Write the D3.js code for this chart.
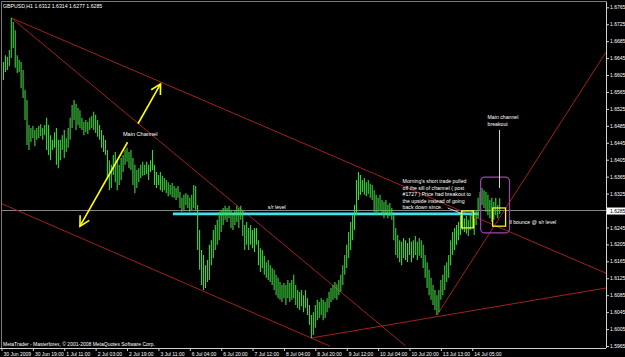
<!DOCTYPE html>
<html>
<head>
<meta charset="utf-8">
<script src="https://cdnjs.cloudflare.com/ajax/libs/d3/7.8.5/d3.min.js"></script>
<style>
  body { margin: 0; background: #000; }
  svg { display: block; }
  text { font-family: "Liberation Sans", Arial, sans-serif; }
</style>
</head>
<body>
<div id="chart"></div>
<script>
// ---- data (GBPUSD H1) ----
const symbolTitle = "GBPUSD,H1  1.6312 1.6314 1.6277 1.6285";
const lastClose = 1.6285;

const highs = [
  1.6612,1.6636,1.6652,1.6648,1.6664,1.6740,1.6730,1.6711,1.6652,1.6641,
  1.6636,1.6617,1.6570,1.6546,1.6487,1.6480,1.6485,1.6475,1.6480,1.6485,
  1.6489,1.6480,1.6487,1.6504,1.6487,1.6463,1.6452,1.6470,1.6480,1.6452,
  1.6452,1.6463,1.6475,1.6456,1.6480,1.6504,1.6534,1.6546,1.6537,1.6527,
  1.6522,1.6504,1.6494,1.6499,1.6494,1.6504,1.6508,1.6518,1.6511,1.6499,
  1.6487,1.6475,1.6463,1.6452,1.6428,1.6404,1.6393,1.6416,1.6423,1.6404,
  1.6393,1.6409,1.6416,1.6428,1.6433,1.6423,1.6428,1.6409,1.6393,1.6381,
  1.6385,1.6393,1.6400,1.6393,1.6400,1.6393,1.6404,1.6428,1.6393,1.6376,
  1.6369,1.6376,1.6367,1.6362,1.6357,1.6352,1.6345,1.6350,1.6343,1.6338,
  1.6343,1.6329,1.6315,1.6322,1.6326,1.6322,1.6315,1.6322,1.6345,1.6343,
  1.6298,1.6239,1.6192,1.6180,1.6156,1.6168,1.6204,1.6215,1.6239,1.6251,
  1.6263,1.6282,1.6286,1.6291,1.6296,1.6291,1.6296,1.6286,1.6277,1.6286,
  1.6296,1.6291,1.6296,1.6286,1.6251,1.6258,1.6244,1.6251,1.6239,1.6244,
  1.6244,1.6215,1.6196,1.6192,1.6178,1.6163,1.6168,1.6156,1.6149,1.6145,
  1.6133,1.6126,1.6116,1.6109,1.6114,1.6109,1.6121,1.6114,1.6121,1.6133,
  1.6109,1.6097,1.6093,1.6097,1.6085,1.6097,1.6078,1.6062,1.6038,1.6045,
  1.6062,1.6074,1.6069,1.6078,1.6074,1.6069,1.6078,1.6093,1.6102,1.6109,
  1.6116,1.6111,1.6121,1.6133,1.6156,1.6180,1.6204,1.6234,1.6258,1.6274,
  1.6298,1.6357,1.6376,1.6369,1.6357,1.6362,1.6352,1.6357,1.6348,1.6345,
  1.6333,1.6322,1.6315,1.6322,1.6310,1.6305,1.6310,1.6298,1.6303,1.6291,
  1.6274,1.6244,1.6227,1.6215,1.6211,1.6220,1.6215,1.6208,1.6220,1.6211,
  1.6215,1.6225,1.6211,1.6220,1.6215,1.6204,1.6180,1.6163,1.6145,1.6126,
  1.6109,1.6097,1.6085,1.6097,1.6121,1.6133,1.6156,1.6163,1.6180,1.6215,
  1.6234,1.6244,1.6251,1.6258,1.6274,1.6282,1.6267,1.6272,1.6263,1.6274,
  1.6286,1.6267,1.6286,1.6315,1.6329,1.6338,1.6333,1.6329,1.6322,1.6310,
  1.6315,1.6305,1.6315,1.6298,1.6314
];

const lows = [
  1.6570,1.6593,1.6612,1.6617,1.6626,1.6645,1.6669,1.6622,1.6610,1.6612,
  1.6574,1.6551,1.6499,1.6440,1.6428,1.6447,1.6456,1.6437,1.6452,1.6456,
  1.6461,1.6452,1.6463,1.6428,1.6416,1.6404,1.6428,1.6433,1.6393,1.6385,
  1.6404,1.6428,1.6409,1.6423,1.6433,1.6452,1.6480,1.6499,1.6475,1.6487,
  1.6480,1.6475,1.6463,1.6470,1.6466,1.6475,1.6480,1.6475,1.6468,1.6459,
  1.6452,1.6433,1.6423,1.6416,1.6362,1.6333,1.6338,1.6369,1.6352,1.6333,
  1.6345,1.6357,1.6376,1.6393,1.6400,1.6385,1.6381,1.6345,1.6326,1.6338,
  1.6352,1.6362,1.6367,1.6369,1.6371,1.6357,1.6376,1.6381,1.6345,1.6338,
  1.6345,1.6333,1.6329,1.6333,1.6326,1.6319,1.6322,1.6317,1.6315,1.6310,
  1.6315,1.6291,1.6282,1.6286,1.6298,1.6291,1.6282,1.6286,1.6291,1.6286,
  1.6192,1.6145,1.6109,1.6097,1.6102,1.6116,1.6121,1.6156,1.6173,1.6192,
  1.6204,1.6215,1.6234,1.6251,1.6263,1.6258,1.6267,1.6244,1.6239,1.6251,
  1.6258,1.6244,1.6263,1.6225,1.6192,1.6204,1.6192,1.6204,1.6196,1.6187,
  1.6204,1.6156,1.6140,1.6149,1.6133,1.6126,1.6121,1.6116,1.6109,1.6097,
  1.6085,1.6078,1.6074,1.6069,1.6078,1.6062,1.6078,1.6069,1.6074,1.6078,
  1.6062,1.6055,1.6050,1.6059,1.6045,1.6055,1.6038,1.6015,1.5984,1.5991,
  1.6008,1.6026,1.6031,1.6038,1.6026,1.6031,1.6045,1.6055,1.6069,1.6074,
  1.6078,1.6074,1.6085,1.6093,1.6109,1.6133,1.6149,1.6173,1.6192,1.6215,
  1.6239,1.6274,1.6310,1.6322,1.6329,1.6322,1.6319,1.6324,1.6315,1.6310,
  1.6282,1.6274,1.6282,1.6286,1.6274,1.6267,1.6277,1.6267,1.6272,1.6263,
  1.6215,1.6180,1.6173,1.6163,1.6156,1.6173,1.6168,1.6163,1.6180,1.6163,
  1.6173,1.6180,1.6168,1.6178,1.6173,1.6149,1.6126,1.6102,1.6085,1.6074,
  1.6062,1.6050,1.6038,1.6045,1.6074,1.6085,1.6097,1.6116,1.6126,1.6156,
  1.6180,1.6192,1.6204,1.6215,1.6227,1.6239,1.6234,1.6230,1.6225,1.6239,
  1.6244,1.6227,1.6251,1.6267,1.6286,1.6298,1.6291,1.6282,1.6274,1.6267,
  1.6258,1.6263,1.6274,1.6267,1.6277
];

const timeLabels = ["30 Jun 2009", "30 Jun 19:00", "1 Jul 11:00", "2 Jul 03:00", "2 Jul 19:00",
  "3 Jul 11:00", "6 Jul 04:00", "6 Jul 20:00", "7 Jul 12:00", "8 Jul 04:00", "8 Jul 20:00",
  "9 Jul 12:00", "10 Jul 04:00", "10 Jul 20:00", "13 Jul 13:00", "14 Jul 05:00"];
const timeLabelBars = [0, 16, 32, 48, 64, 80, 96, 112, 128, 144, 160, 176, 192, 208, 224, 240];

const priceTicks = [1.5965, 1.6005, 1.6045, 1.6085, 1.6125, 1.6165, 1.6205, 1.6245, 1.6285,
  1.6325, 1.6365, 1.6405, 1.6445, 1.6485, 1.6525, 1.6565, 1.6605, 1.6645, 1.6685, 1.6725, 1.6765];

// trend lines: [bar, price] pairs
const trendLines = [
  [[5, 1.6740], [308.2, 1.6137]],
  [[5, 1.6740], [206.1, 1.5965]],
  [[-0.8, 1.6303], [167.3, 1.5965]],
  [[158, 1.5984], [308.2, 1.6102]],
  [[222, 1.6038], [308.2, 1.6659]]
];

const srLevel = [87.4, 243.3, 1.6277];            // start bar, end bar, price
const channelArrow = [[40, 1.6248], [81.1, 1.6584]];
const yellowBoxes = [[234.6, 240.7, 1.6284, 1.6244], [250.4, 257.0, 1.6291, 1.6248]];
const purpleBox = [244.3, 259.0, 1.6364, 1.6232];
const noteLines = ["Morning's short trade pulled", "off the sill of channel ( post",
  "#1727 ) Price had breakout to", "the upside instead of going", "back down since."];
const noteAnchor = [204.5, 1.6350];
const notePointer = [[227.5, 1.6291], [235.1, 1.6277]];
const breakoutLines = ["Main channel", "breakout"];
const breakoutAnchor = [247.8, 1.6501];
const breakoutPointer = [[253.9, 1.6475], [253.9, 1.6338]];
const bounceText = "ll bounce @ s/r level";
const bounceAnchor = [259.0, 1.6253];

// ---- drawing ----
const width = 625, height = 357;
const plotRight = 606, plotBottom = 348;

const svg = d3.select("#chart").append("svg")
  .attr("width", width).attr("height", height)
  .style("background", "#000");

const x = d3.scaleLinear().domain([0, 308.2]).range([1.5, plotRight]);
const y = d3.scaleLinear().domain([1.5965, 1.6765]).range([346, 7.3]);

svg.append("clipPath").attr("id", "plot")
  .append("rect").attr("x", 1.5).attr("y", 1.5)
  .attr("width", plotRight - 1.5).attr("height", plotBottom - 1.5);

const plot = svg.append("g").attr("clip-path", "url(#plot)");

// bid line
plot.append("line")
  .attr("x1", 0).attr("x2", plotRight)
  .attr("y1", y(lastClose)).attr("y2", y(lastClose))
  .attr("stroke", "#8a8a8a").attr("stroke-width", 1);

// trend lines
plot.selectAll("line.trend")
  .data(trendLines)
  .join("line")
  .attr("class", "trend")
  .attr("x1", d => x(d[0][0])).attr("y1", d => y(d[0][1]))
  .attr("x2", d => x(d[1][0])).attr("y2", d => y(d[1][1]))
  .attr("stroke", "#a3201f").attr("stroke-width", 1);

// s/r level
plot.append("line")
  .attr("x1", x(srLevel[0])).attr("x2", x(srLevel[1]))
  .attr("y1", y(srLevel[2])).attr("y2", y(srLevel[2]))
  .attr("stroke", "#3ee4ea").attr("stroke-width", 2.6);

// price bars
plot.selectAll("line.bar")
  .data(d3.range(highs.length))
  .join("line")
  .attr("class", "bar")
  .attr("x1", i => x(i)).attr("x2", i => x(i))
  .attr("y1", i => y(highs[i])).attr("y2", i => y(lows[i]))
  .attr("stroke", "#3fd23f").attr("stroke-width", 1.1);

// channel double arrow (broken around the label)
const a0 = [x(channelArrow[0][0]), y(channelArrow[0][1])];
const a1 = [x(channelArrow[1][0]), y(channelArrow[1][1])];
const lerp = t => [a0[0] + (a1[0] - a0[0]) * t, a0[1] + (a1[1] - a0[1]) * t];
[[0, 0.59], [0.72, 1]].forEach(([t0, t1]) => {
  const p = lerp(t0), q = lerp(t1);
  plot.append("line")
    .attr("x1", p[0]).attr("y1", p[1]).attr("x2", q[0]).attr("y2", q[1])
    .attr("stroke", "#ffff00").attr("stroke-width", 1.6);
});
function arrowHead(tip, from) {
  const ang = Math.atan2(from[1] - tip[1], from[0] - tip[0]);
  const len = 11, spread = 0.5;
  const l = [tip[0] + len * Math.cos(ang - spread), tip[1] + len * Math.sin(ang - spread)];
  const r = [tip[0] + len * Math.cos(ang + spread), tip[1] + len * Math.sin(ang + spread)];
  plot.append("path")
    .attr("d", d3.line()([l, tip, r]))
    .attr("fill", "none").attr("stroke", "#ffff00").attr("stroke-width", 1.6);
}
arrowHead(a1, a0);
arrowHead(a0, a1);

plot.append("text")
  .attr("x", x(61.9)).attr("y", y(1.6461))
  .attr("fill", "#fff").attr("font-size", 5.6)
  .text("Main Channel");

plot.append("text")
  .attr("x", x(135.8)).attr("y", y(1.6288))
  .attr("fill", "#fff").attr("font-size", 5.2)
  .text("s/r level");

// boxes
plot.selectAll("rect.ybox")
  .data(yellowBoxes)
  .join("rect")
  .attr("class", "ybox")
  .attr("x", d => x(d[0])).attr("y", d => y(d[2]))
  .attr("width", d => x(d[1]) - x(d[0])).attr("height", d => y(d[3]) - y(d[2]))
  .attr("fill", "none").attr("stroke", "#f2f22a").attr("stroke-width", 1.3);

plot.append("rect")
  .attr("x", x(purpleBox[0])).attr("y", y(purpleBox[2]))
  .attr("width", x(purpleBox[1]) - x(purpleBox[0]))
  .attr("height", y(purpleBox[3]) - y(purpleBox[2]))
  .attr("rx", 4)
  .attr("fill", "none").attr("stroke", "#a045b0").attr("stroke-width", 1.2);

// notes
plot.append("text")
  .attr("x", x(noteAnchor[0])).attr("y", y(noteAnchor[1]))
  .attr("fill", "#fff").attr("font-size", 5.2)
  .selectAll("tspan").data(noteLines).join("tspan")
  .attr("x", x(noteAnchor[0])).attr("dy", (d, i) => i ? 6.6 : 0)
  .text(d => d);

plot.append("line")
  .attr("x1", x(notePointer[0][0])).attr("y1", y(notePointer[0][1]))
  .attr("x2", x(notePointer[1][0])).attr("y2", y(notePointer[1][1]))
  .attr("stroke", "#e8e8e8").attr("stroke-width", 0.8);

plot.append("text")
  .attr("x", x(breakoutAnchor[0])).attr("y", y(breakoutAnchor[1]))
  .attr("fill", "#fff").attr("font-size", 5.2)
  .selectAll("tspan").data(breakoutLines).join("tspan")
  .attr("x", x(breakoutAnchor[0])).attr("dy", (d, i) => i ? 7 : 0)
  .text(d => d);

plot.append("line")
  .attr("x1", x(breakoutPointer[0][0])).attr("y1", y(breakoutPointer[0][1]))
  .attr("x2", x(breakoutPointer[1][0])).attr("y2", y(breakoutPointer[1][1]))
  .attr("stroke", "#f0f0f0").attr("stroke-width", 0.9);

plot.append("text")
  .attr("x", x(bounceAnchor[0])).attr("y", y(bounceAnchor[1]))
  .attr("fill", "#fff").attr("font-size", 5.2)
  .text(bounceText);

// title & copyright
svg.append("text")
  .attr("x", 3).attr("y", 7.5)
  .attr("fill", "#fff").attr("font-size", 5.2)
  .text(symbolTitle);

svg.append("text")
  .attr("x", 3).attr("y", 345.5)
  .attr("fill", "#fff").attr("font-size", 5)
  .text("MetaTrader - Masterforex, \u00a9 2001-2008 MetaQuotes Software Corp.");

// frame
svg.append("path")
  .attr("d", `M1.5,${plotBottom}V1.5H${plotRight}`)
  .attr("fill", "none").attr("stroke", "#7a7a7a").attr("stroke-width", 1);

// price axis
const yAxis = svg.append("g")
  .attr("transform", `translate(${plotRight},0)`)
  .call(d3.axisRight(y).tickValues(priceTicks).tickFormat(d3.format(".4f")).tickSize(3).tickPadding(1));
yAxis.select(".domain").attr("stroke", "#d0d0d0").attr("d", `M0.5,1.5V${plotBottom}`);
yAxis.selectAll(".tick line").attr("stroke", "#d0d0d0");
yAxis.selectAll(".tick text")
  .attr("fill", "#fff").attr("font-size", 5).attr("font-family", "Liberation Sans, Arial, sans-serif");
yAxis.selectAll(".tick").filter(d => Math.abs(d - lastClose) < 1e-6)
  .each(function () {
    const t = d3.select(this);
    t.insert("rect", "text")
      .attr("x", 1).attr("y", -3.5).attr("width", 18).attr("height", 7)
      .attr("fill", "#fff");
    t.select("text").attr("fill", "#000");
  });

// time axis
const xAxis = svg.append("g")
  .attr("transform", `translate(0,${plotBottom})`)
  .call(d3.axisBottom(x).tickValues(timeLabelBars)
    .tickFormat((d, i) => timeLabels[i]).tickSize(3).tickPadding(1));
xAxis.select(".domain").attr("stroke", "#d0d0d0").attr("d", `M0,0.5H${plotRight}`);
xAxis.selectAll(".tick line").attr("stroke", "#d0d0d0");
xAxis.selectAll(".tick text")
  .attr("fill", "#fff").attr("font-size", 5)
  .attr("font-family", "Liberation Sans, Arial, sans-serif")
  .attr("text-anchor", "start").attr("dx", 1.5);
</script>
</body>
</html>
